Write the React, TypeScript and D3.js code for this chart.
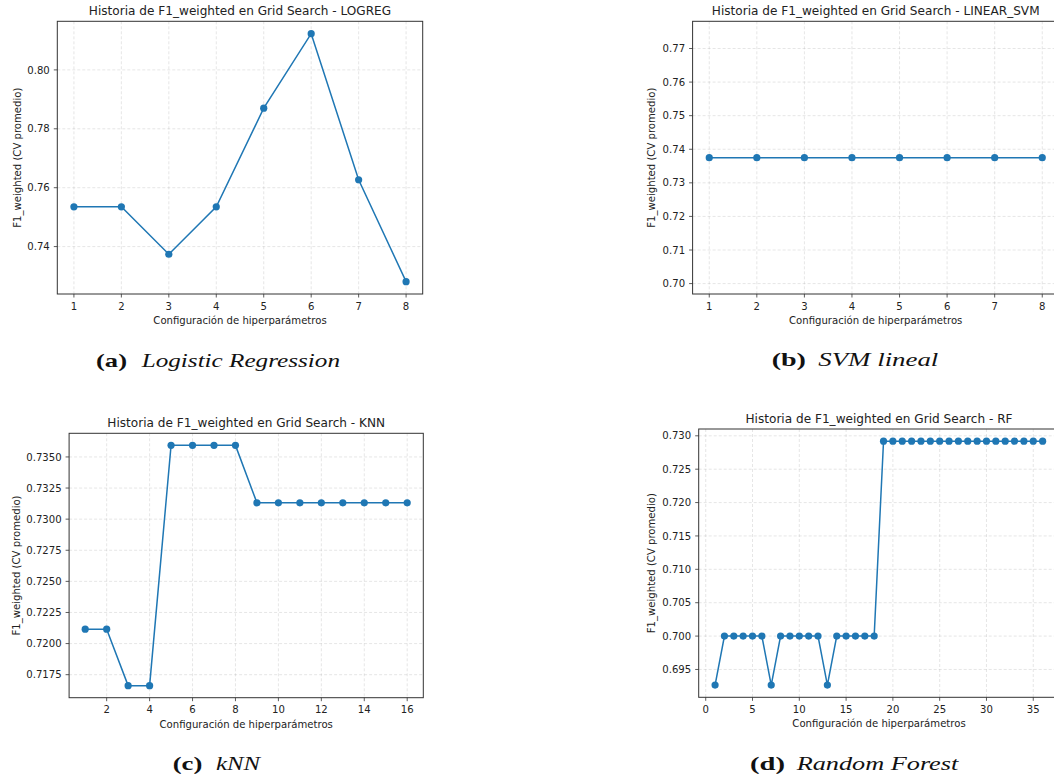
import React from "react";
import * as d3 from "d3";

// ---------- data ----------
const logregConfigs = [1, 2, 3, 4, 5, 6, 7, 8];
const logregValues = [0.7535, 0.7535, 0.7374, 0.7535, 0.787, 0.8123, 0.7627, 0.7281];
const logregXTicks = [1, 2, 3, 4, 5, 6, 7, 8];
const logregYTicks = [0.74, 0.76, 0.78, 0.8];

const svmConfigs = [1, 2, 3, 4, 5, 6, 7, 8];
const svmValues = [0.7375, 0.7375, 0.7375, 0.7375, 0.7375, 0.7375, 0.7375, 0.7375];
const svmXTicks = [1, 2, 3, 4, 5, 6, 7, 8];
const svmYTicks = [0.7, 0.71, 0.72, 0.73, 0.74, 0.75, 0.76, 0.77];

const knnConfigs = [1, 2, 3, 4, 5, 6, 7, 8, 9, 10, 11, 12, 13, 14, 15, 16];
const knnValues = [
  0.72116, 0.72116, 0.71662, 0.71662, 0.73593, 0.73593, 0.73593, 0.73593,
  0.73131, 0.73131, 0.73131, 0.73131, 0.73131, 0.73131, 0.73131, 0.73131,
];
const knnXTicks = [2, 4, 6, 8, 10, 12, 14, 16];
const knnYTicks = [0.7175, 0.72, 0.7225, 0.725, 0.7275, 0.73, 0.7325, 0.735];

const rfConfigs = [
  1, 2, 3, 4, 5, 6, 7, 8, 9, 10, 11, 12, 13, 14, 15, 16, 17, 18,
  19, 20, 21, 22, 23, 24, 25, 26, 27, 28, 29, 30, 31, 32, 33, 34, 35, 36,
];
const rfValues = [
  0.69266, 0.7, 0.7, 0.7, 0.7, 0.7, 0.69266, 0.7, 0.7, 0.7, 0.7, 0.7,
  0.69266, 0.7, 0.7, 0.7, 0.7, 0.7, 0.72919, 0.72919, 0.72919, 0.72919,
  0.72919, 0.72919, 0.72919, 0.72919, 0.72919, 0.72919, 0.72919, 0.72919,
  0.72919, 0.72919, 0.72919, 0.72919, 0.72919, 0.72919,
];
const rfXTicks = [0, 5, 10, 15, 20, 25, 30, 35];
const rfYTicks = [0.695, 0.7, 0.705, 0.71, 0.715, 0.72, 0.725, 0.73];

const titles = [
  "Historia de F1_weighted en Grid Search - LOGREG",
  "Historia de F1_weighted en Grid Search - LINEAR_SVM",
  "Historia de F1_weighted en Grid Search - KNN",
  "Historia de F1_weighted en Grid Search - RF",
];
const xLabel = "Configuración de hiperparámetros";
const yLabel = "F1_weighted (CV promedio)";
const captionTags = ["(a)", "(b)", "(c)", "(d)"];
const captionNames = ["Logistic Regression", "SVM lineal", "kNN", "Random Forest"];

// ---------- layout ----------
const COLOR = "#1f77b4";
const SANS = "DejaVu Sans, sans-serif";
const SERIF = "Liberation Serif, Times New Roman, serif";
const LABEL_FS = 10.1;
const TITLE_FS = 12.1;

type PanelSpec = {
  x: number[];
  y: number[];
  xTicks: number[];
  yTicks: number[];
  yFmt: string;
  xDomain: [number, number];
  yDomain: [number, number];
  left: number;
  right: number;
  top: number;
  bottom: number;
  yLabelX: number;
  titleX: number;
  xLabelX: number;
  title: string;
};

const panels: PanelSpec[] = [
  {
    x: logregConfigs, y: logregValues, xTicks: logregXTicks, yTicks: logregYTicks,
    yFmt: ".2f", xDomain: [0.65, 8.35], yDomain: [0.7239, 0.8165],
    left: 57.3, right: 422.7, top: 21.3, bottom: 294, yLabelX: 21,
    titleX: 240, xLabelX: 240, title: titles[0],
  },
  {
    x: svmConfigs, y: svmValues, xTicks: svmXTicks, yTicks: svmYTicks,
    yFmt: ".2f", xDomain: [0.65, 8.35], yDomain: [0.6969, 0.7781],
    left: 692.6, right: 1058.9, top: 21.3, bottom: 294, yLabelX: 655,
    titleX: 875.7, xLabelX: 875.7, title: titles[1],
  },
  {
    x: knnConfigs, y: knnValues, xTicks: knnXTicks, yTicks: knnYTicks,
    yFmt: ".4f", xDomain: [0.25, 16.75], yDomain: [0.71565, 0.7369],
    left: 69.1, right: 423.3, top: 433.3, bottom: 697.7, yLabelX: 20,
    titleX: 246.2, xLabelX: 246.2, title: titles[2],
  },
  {
    x: rfConfigs, y: rfValues, xTicks: rfXTicks, yTicks: rfYTicks,
    yFmt: ".3f", xDomain: [-0.75, 37.75], yDomain: [0.69083, 0.73102],
    left: 698.7, right: 1059, top: 429, bottom: 697.3, yLabelX: 655,
    titleX: 879, xLabelX: 879, title: titles[3],
  },
];

const captionLayout = [
  { tagX: 96, tagW: 31, nameX: 141.7, nameW: 198.3, y: 367 },
  { tagX: 771.7, tagW: 34.3, nameX: 818.3, nameW: 120, y: 366 },
  { tagX: 172.7, tagW: 29.6, nameX: 216, nameW: 44, y: 770 },
  { tagX: 750, tagW: 35, nameX: 796.7, nameW: 161.6, y: 770 },
];

function Panel({ p }: { p: PanelSpec }) {
  const xs = d3.scaleLinear().domain(p.xDomain).range([p.left, p.right]);
  const ys = d3.scaleLinear().domain(p.yDomain).range([p.bottom, p.top]);
  const fmt = d3.format(p.yFmt);
  const pts = p.x.map((xv, i) => [xv, p.y[i]] as [number, number]);
  const line = d3
    .line<[number, number]>()
    .x((d) => xs(d[0]))
    .y((d) => ys(d[1]));
  const midY = (p.top + p.bottom) / 2;
  return (
    <g>
      {/* grid */}
      {p.xTicks.map((t) => (
        <line key={"gx" + t} x1={xs(t)} x2={xs(t)} y1={p.top} y2={p.bottom}
          stroke="#b0b0b0" strokeOpacity={0.4} strokeWidth={0.8} strokeDasharray="3,2" />
      ))}
      {p.yTicks.map((t) => (
        <line key={"gy" + t} x1={p.left} x2={p.right} y1={ys(t)} y2={ys(t)}
          stroke="#b0b0b0" strokeOpacity={0.4} strokeWidth={0.8} strokeDasharray="3,2" />
      ))}
      {/* line + markers */}
      <path d={line(pts) || ""} fill="none" stroke={COLOR} strokeWidth={1.5} />
      {pts.map((d, i) => (
        <circle key={"m" + i} cx={xs(d[0])} cy={ys(d[1])} r={3.6} fill={COLOR} />
      ))}
      {/* frame */}
      <rect x={p.left} y={p.top} width={p.right - p.left} height={p.bottom - p.top}
        fill="none" stroke="#333" strokeWidth={1} />
      {/* x ticks */}
      {p.xTicks.map((t) => (
        <g key={"xt" + t}>
          <line x1={xs(t)} x2={xs(t)} y1={p.bottom} y2={p.bottom + 3.5} stroke="#333" strokeWidth={0.8} />
          <text x={xs(t)} y={p.bottom + 15.6} textAnchor="middle" fontSize={LABEL_FS}
            fontFamily={SANS} fill="#222">{t}</text>
        </g>
      ))}
      {/* y ticks */}
      {p.yTicks.map((t) => (
        <g key={"yt" + t}>
          <line x1={p.left - 3.5} x2={p.left} y1={ys(t)} y2={ys(t)} stroke="#333" strokeWidth={0.8} />
          <text x={p.left - 7.5} y={ys(t)} dy="0.36em" textAnchor="end" fontSize={LABEL_FS}
            fontFamily={SANS} fill="#222">{fmt(t)}</text>
        </g>
      ))}
      {/* labels */}
      <text x={p.xLabelX} y={p.bottom + 29.8} textAnchor="middle" fontSize={LABEL_FS}
        fontFamily={SANS} fill="#222">{xLabel}</text>
      <text transform={`translate(${p.yLabelX},${midY}) rotate(-90)`} textAnchor="middle"
        fontSize={LABEL_FS} fontFamily={SANS} fill="#222">{yLabel}</text>
      <text x={p.titleX} y={p.top - 6.5} textAnchor="middle" fontSize={TITLE_FS}
        fontFamily={SANS} fill="#222">{p.title}</text>
    </g>
  );
}

export default function App() {
  return (
    <svg width={1054} height={781} style={{ position: "absolute", left: 0, top: 0, background: "#fff" }}>
      <rect x={0} y={0} width={1054} height={781} fill="#fff" />
      {panels.map((p, i) => (
        <Panel key={i} p={p} />
      ))}
      {captionLayout.map((c, i) => (
        <g key={"c" + i}>
          <text x={c.tagX} y={c.y} fontSize={19} fontFamily={SERIF} fontWeight="bold" fill="#111"
            textLength={c.tagW} lengthAdjust="spacingAndGlyphs">{captionTags[i]}</text>
          <text x={c.nameX} y={c.y} fontSize={19} fontFamily={SERIF} fontStyle="italic" fill="#111"
            textLength={c.nameW} lengthAdjust="spacingAndGlyphs">{captionNames[i]}</text>
        </g>
      ))}
    </svg>
  );
}
